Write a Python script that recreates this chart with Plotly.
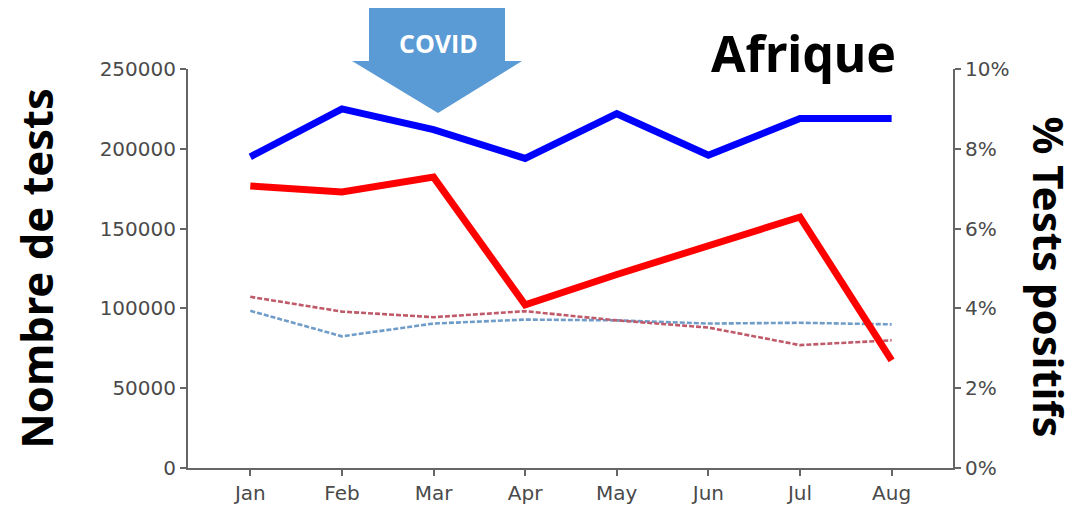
import plotly.graph_objects as go

months = ["Jan", "Feb", "Mar", "Apr", "May", "Jun", "Jul", "Aug"]
tests_2020 = [195000, 225000, 212000, 194000, 222000, 196000, 219000, 219000]
pos_2020 = [7.07, 6.92, 7.29, 4.09, 4.85, 5.55, 6.29, 2.70]
tests_prev = [98500, 82500, 90500, 93000, 92500, 90500, 91000, 90000]
pos_prev = [4.29, 3.92, 3.78, 3.93, 3.70, 3.52, 3.08, 3.20]

y_ticks = [0, 50000, 100000, 150000, 200000, 250000]
y2_ticks = [0, 2, 4, 6, 8, 10]
y2_labels = ["0%", "2%", "4%", "6%", "8%", "10%"]

xs = list(range(len(months)))

fig = go.Figure()
fig.add_trace(go.Scatter(x=xs, y=tests_prev, mode="lines", yaxis="y",
                         line=dict(color="#6f9cc8", width=2.6, dash="5px,2px")))
fig.add_trace(go.Scatter(x=xs, y=pos_prev, mode="lines", yaxis="y2",
                         line=dict(color="#bf5a6a", width=2.6, dash="5px,2px")))
fig.add_trace(go.Scatter(x=xs, y=tests_2020, mode="lines", yaxis="y",
                         line=dict(color="#0000ff", width=7)))
fig.add_trace(go.Scatter(x=xs, y=pos_2020, mode="lines", yaxis="y2",
                         line=dict(color="#ff0000", width=7)))

tick_font = dict(family="DejaVu Sans", size=20, color="#4a4a4a")
axis_common = dict(showgrid=False, zeroline=False, showline=True,
                   linecolor="#666666", linewidth=2, ticks="outside",
                   ticklen=6, tickwidth=2, tickcolor="#666666",
                   tickfont=tick_font)

fig.update_layout(
    width=1076, height=512, autosize=False,
    margin=dict(l=180, r=131, t=61, b=52),
    paper_bgcolor="white", plot_bgcolor="white",
    showlegend=False,
    xaxis=dict(range=[-0.68, 7.67], tickvals=xs, ticktext=months, **axis_common),
    yaxis=dict(range=[0, 250000], tickvals=y_ticks,
               ticktext=[str(v) for v in y_ticks], **axis_common),
    yaxis2=dict(range=[0, 10], tickvals=y2_ticks, ticktext=y2_labels,
                overlaying="y", side="right", **axis_common),
)

# COVID arrow
fig.add_shape(type="path", xref="paper", yref="paper",
              path="M 0.2366 1.158 L 0.4144 1.158 L 0.4144 1.020 L 0.4366 1.020 "
                   "L 0.3268 0.890 L 0.2144 1.020 L 0.2366 1.020 Z",
              fillcolor="#5b9bd5", line=dict(width=0), layer="above")
fig.add_annotation(text="<b>COVID</b>", xref="paper", yref="paper",
                   x=0.3268, y=1.066, xanchor="center", yanchor="middle",
                   showarrow=False,
                   font=dict(family="Open Sans", size=25, color="white"))

fig.add_annotation(text="<b>Afrique</b>", xref="paper", yref="paper",
                   x=0.8046, y=1.04, xanchor="center", yanchor="middle",
                   showarrow=False,
                   font=dict(family="Noto Sans", size=50, color="black"))
fig.add_annotation(text="<b>Nombre de tests</b>", xref="paper", yref="paper",
                   x=-0.199, y=0.499, xanchor="center", yanchor="middle",
                   showarrow=False, textangle=-90,
                   font=dict(family="Noto Sans", size=43.5, color="black"))
fig.add_annotation(text="<b>% Tests positifs</b>", xref="paper", yref="paper",
                   x=1.126, y=0.479, xanchor="center", yanchor="middle",
                   showarrow=False, textangle=90,
                   font=dict(family="Noto Sans", size=42, color="black"))

fig.write_html("out.html")
